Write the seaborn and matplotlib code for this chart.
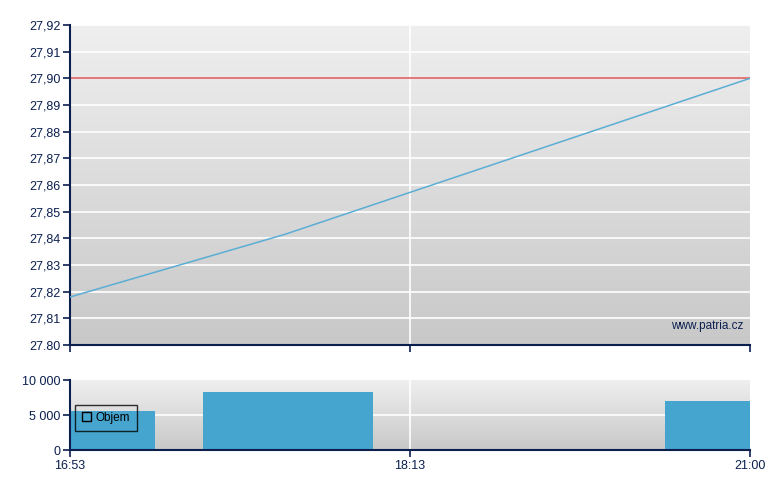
import numpy as np
import matplotlib
matplotlib.use("Agg")
import matplotlib.pyplot as plt
import seaborn as sns

# price line (x = position within the session, 0..100)
price_x = [0, 31.6, 100]
price_y = [27.818, 27.8415, 27.900]
ref_price = 27.90

price_ticks = [27.80, 27.81, 27.82, 27.83, 27.84, 27.85, 27.86,
               27.87, 27.88, 27.89, 27.90, 27.91, 27.92]
price_labels = ["27.80", "27,81", "27,82", "27,83", "27,84", "27,85", "27,86",
                "27,87", "27,88", "27,89", "27,90", "27,91", "27,92"]

# volume bars (start, end within session, volume)
vol_start = [0, 19.6, 87.5]
vol_end = [12.5, 44.6, 100]
vol_value = [5600, 8300, 7000]
vol_ticks = [0, 5000, 10000]
vol_labels = ["0", "5 000", "10 000"]

time_pos = [0, 50, 100]
time_labels = ["16:53", "18:13", "21:00"]

navy = "#0b1f4f"
sns.set_style("white")
plt.rcParams["font.family"] = ["Liberation Sans", "DejaVu Sans"]

fig = plt.figure(figsize=(7.8, 4.9), dpi=100)
ax = fig.add_axes([70 / 780, 1 - 345 / 490, 680 / 780, 320 / 490])
axv = fig.add_axes([70 / 780, 1 - 450 / 490, 680 / 780, 70 / 490])

grad = np.linspace(0, 1, 256).reshape(-1, 1)
cmap = matplotlib.colors.LinearSegmentedColormap.from_list("bg", ["#efefef", "#c8c8c8"])

for a in (ax, axv):
    a.imshow(grad, aspect="auto", cmap=cmap, extent=[0, 1, 0, 1],
             transform=a.transAxes, zorder=0)
    for s in ("top", "right"):
        a.spines[s].set_visible(False)
    for s in ("left", "bottom"):
        a.spines[s].set_color(navy)
        a.spines[s].set_linewidth(1.5)
    a.tick_params(left=True, bottom=True, colors=navy, labelcolor=navy,
                  labelsize=9, length=5, width=1.2, direction="out", pad=2)
    a.set_xlim(0, 100)
    a.set_xticks(time_pos)

# price panel
ax.set_ylim(27.80, 27.92)
ax.set_yticks(price_ticks)
ax.set_yticklabels(price_labels)
for t in price_ticks[1:]:
    ax.axhline(t, color="white", lw=1.2, zorder=1)
ax.axvline(50, color="white", lw=1.2, zorder=1)
ax.axhline(ref_price, color="#e06060", lw=1.2, zorder=2)
sns.lineplot(x=price_x, y=price_y, ax=ax, color="#5aaed4", lw=1.1, zorder=3)
ax.set_xticklabels([])
ax.set_xlabel("")
ax.set_ylabel("")
ax.text(0.99, 0.06, "www.patria.cz", transform=ax.transAxes, ha="right",
        va="center", color=navy, fontsize=8.5)

# volume panel
axv.set_ylim(0, 10000)
axv.set_yticks(vol_ticks)
axv.set_yticklabels(vol_labels)
axv.axhline(5000, color="white", lw=1.2, zorder=1)
axv.axvline(50, color="white", lw=1.2, zorder=1)
widths = [e - s for s, e in zip(vol_start, vol_end)]
axv.bar(vol_start, vol_value, width=widths, align="edge", color="#46a5cf",
        linewidth=0, zorder=2, label="Objem")
axv.set_xticklabels(time_labels)
leg = axv.legend(loc="upper left", bbox_to_anchor=(0.007, 0.643), frameon=True,
                 fancybox=False, fontsize=8.5, handlelength=0.8, handleheight=0.8,
                 handletextpad=0.35, borderpad=0.6, borderaxespad=0,
                 labelcolor="black")
leg.get_frame().set_edgecolor("black")
leg.get_frame().set_facecolor("none")
leg.get_frame().set_linewidth(1)
h = leg.legend_handles[0]
h.set_facecolor("none")
h.set_edgecolor("black")
h.set_linewidth(1)

fig.savefig("out.png", dpi=100)
